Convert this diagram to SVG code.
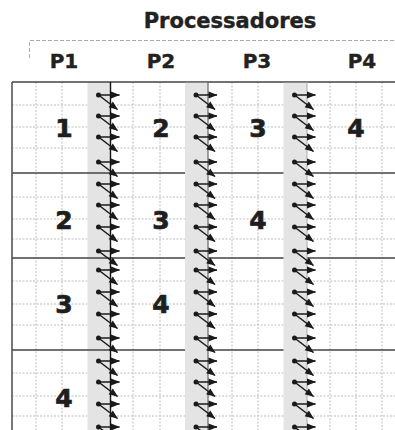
<svg xmlns="http://www.w3.org/2000/svg" xmlns:xlink="http://www.w3.org/1999/xlink" width="395" height="430" viewBox="0 0 395 430">
<style>
  .title { font-family: "DejaVu Sans", Verdana, sans-serif; font-weight: bold; font-size: 21px; fill: #222; stroke: #222; stroke-width: 0.4; text-anchor: middle; }
  .plabel { font-family: "DejaVu Sans", Verdana, sans-serif; font-weight: bold; font-size: 20px; fill: #222; stroke: #222; stroke-width: 0.4; text-anchor: middle; }
  .num { font-family: "DejaVu Sans", Verdana, sans-serif; font-weight: bold; font-size: 25px; fill: #1e1e1e; stroke: #1e1e1e; stroke-width: 0.7; text-anchor: middle; }
  .dot { stroke: #bdbdbd; stroke-width: 1; stroke-dasharray: 2 1.5; fill: none; }
  .solid { stroke: #444; stroke-width: 1.6; fill: none; }
  .band { fill: #e4e4e4; }
  .arr { stroke: #1a1a1a; stroke-width: 1.5; marker-end: url(#ah); }
</style>
<defs>
  <marker id="ah" markerUnits="userSpaceOnUse" markerWidth="10" markerHeight="8" refX="8.5" refY="4" orient="auto" overflow="visible">
    <path d="M0,0.5 L9,4 L0,7.5 z" fill="#1a1a1a"/>
  </marker>
  <g id="pair">
    <line class="arr" x1="0" y1="0" x2="21" y2="0"/>
    <line class="arr" x1="0" y1="0" x2="19" y2="14.5"/>
    <circle r="2.5" fill="#1a1a1a"/>
  </g>
</defs>

<rect width="395" height="430" fill="#ffffff"/>

<g id="header">
  <path d="M29.5,58 V40.5 H395" fill="none" stroke="#aaa" stroke-width="1" stroke-dasharray="4 2"/>
  <text class="title" x="230" y="28">Processadores</text>
  <text class="plabel" x="64" y="68">P1</text>
  <text class="plabel" x="161" y="68">P2</text>
  <text class="plabel" x="257" y="68">P3</text>
  <text class="plabel" x="362" y="68">P4</text>
</g>

<g id="grid">
  <g class="dot">
    <path d="M36,82V430 M62,82V430 M133,82V430 M160,82V430 M232,82V430 M258,82V430 M330,82V430 M356,82V430 M382,82V430"/>
    <path d="M12,105H395 M12,127H395 M12,148H395 M12,197H395 M12,219H395 M12,239H395 M12,281H395 M12,304H395 M12,325H395 M12,373H395 M12,396H395 M12,416H395"/>
  </g>
  <rect class="band" x="87.5" y="82" width="23" height="348"/>
  <path class="solid" d="M12,82H395 M12,173H395 M12,258H395 M12,350H395"/>
  <path d="M12,82V430" stroke="#555" stroke-width="1.6"/>
  <rect class="band" x="185" y="82.8" width="23" height="348"/>
  <rect class="band" x="283.5" y="82.8" width="23.5" height="348"/>
  <path d="M110.5,82V430" stroke="#111" stroke-width="1.4"/>
  <path d="M208,82V430" stroke="#666" stroke-width="1.2"/>
  <path d="M307,82V430" stroke="#aaa" stroke-width="1"/>
</g>

<g id="row1">
  <text class="num" x="64" y="137">1</text>
  <text class="num" x="161" y="137">2</text>
  <text class="num" x="258" y="137">3</text>
  <text class="num" x="356" y="137">4</text>
</g>
<g id="row2">
  <text class="num" x="64" y="229">2</text>
  <text class="num" x="161" y="229">3</text>
  <text class="num" x="258" y="229">4</text>
</g>
<g id="row3">
  <text class="num" x="64" y="313">3</text>
  <text class="num" x="161" y="313">4</text>
</g>
<g id="row4">
  <text class="num" x="64" y="407">4</text>
</g>

<g id="connectors">
  <use xlink:href="#pair" x="98.5" y="95"/>
  <use xlink:href="#pair" x="98.5" y="116"/>
  <use xlink:href="#pair" x="98.5" y="137"/>
  <use xlink:href="#pair" x="98.5" y="162"/>
  <use xlink:href="#pair" x="98.5" y="184"/>
  <use xlink:href="#pair" x="98.5" y="205"/>
  <use xlink:href="#pair" x="98.5" y="227"/>
  <use xlink:href="#pair" x="98.5" y="251"/>
  <use xlink:href="#pair" x="98.5" y="270"/>
  <use xlink:href="#pair" x="98.5" y="292"/>
  <use xlink:href="#pair" x="98.5" y="314"/>
  <use xlink:href="#pair" x="98.5" y="338"/>
  <use xlink:href="#pair" x="98.5" y="361"/>
  <use xlink:href="#pair" x="98.5" y="382"/>
  <use xlink:href="#pair" x="98.5" y="404"/>
  <use xlink:href="#pair" x="98.5" y="427"/>

  <use xlink:href="#pair" x="196" y="95"/>
  <use xlink:href="#pair" x="196" y="116"/>
  <use xlink:href="#pair" x="196" y="137"/>
  <use xlink:href="#pair" x="196" y="162"/>
  <use xlink:href="#pair" x="196" y="184"/>
  <use xlink:href="#pair" x="196" y="205"/>
  <use xlink:href="#pair" x="196" y="227"/>
  <use xlink:href="#pair" x="196" y="251"/>
  <use xlink:href="#pair" x="196" y="270"/>
  <use xlink:href="#pair" x="196" y="292"/>
  <use xlink:href="#pair" x="196" y="314"/>
  <use xlink:href="#pair" x="196" y="338"/>
  <use xlink:href="#pair" x="196" y="361"/>
  <use xlink:href="#pair" x="196" y="382"/>
  <use xlink:href="#pair" x="196" y="404"/>
  <use xlink:href="#pair" x="196" y="427"/>

  <use xlink:href="#pair" x="294.5" y="95"/>
  <use xlink:href="#pair" x="294.5" y="116"/>
  <use xlink:href="#pair" x="294.5" y="137"/>
  <use xlink:href="#pair" x="294.5" y="162"/>
  <use xlink:href="#pair" x="294.5" y="184"/>
  <use xlink:href="#pair" x="294.5" y="205"/>
  <use xlink:href="#pair" x="294.5" y="227"/>
  <use xlink:href="#pair" x="294.5" y="251"/>
  <use xlink:href="#pair" x="294.5" y="270"/>
  <use xlink:href="#pair" x="294.5" y="292"/>
  <use xlink:href="#pair" x="294.5" y="314"/>
  <use xlink:href="#pair" x="294.5" y="338"/>
  <use xlink:href="#pair" x="294.5" y="361"/>
  <use xlink:href="#pair" x="294.5" y="382"/>
  <use xlink:href="#pair" x="294.5" y="404"/>
  <use xlink:href="#pair" x="294.5" y="427"/>
</g>
</svg>
